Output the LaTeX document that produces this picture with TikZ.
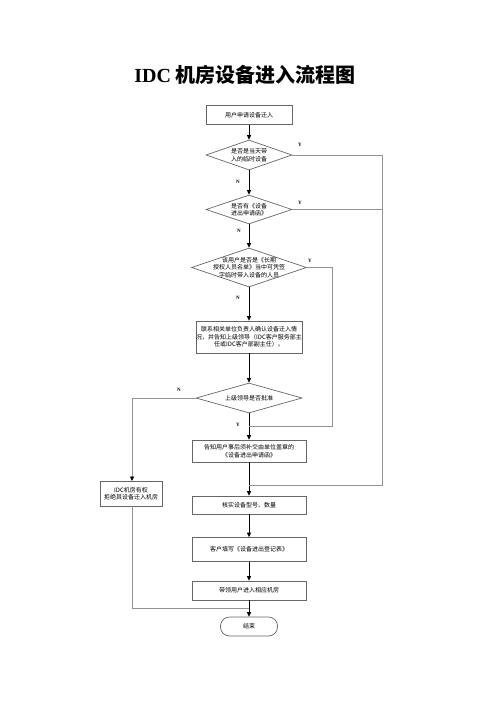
\documentclass[tikz,border=0pt]{standalone}
\usepackage{fontspec}
\setmainfont{Noto Sans CJK SC}
\newfontfamily\latserif{Liberation Serif}
\usetikzlibrary{shapes.geometric,arrows.meta}
\tikzset{
  box/.style={draw=gray!80!black, line width=0.7pt, fill=white, inner sep=0pt, align=center,
              font=\fontsize{6pt}{7.5pt}\selectfont},
  dia/.style={draw=gray!80!black, line width=0.7pt, shape=diamond, inner sep=0pt},
  txt/.style={align=center, inner sep=0pt, font=\fontsize{6pt}{7.5pt}\selectfont},
  yn/.style={inner sep=0pt, font=\latserif\bfseries\fontsize{5pt}{6pt}\selectfont},
  main/.style={line width=1pt, black, -{Triangle[length=4.5pt,width=4pt]}},
  side/.style={line width=0.7pt, gray!85},
  sidearr/.style={line width=0.7pt, gray!85, -{Triangle[length=4.5pt,width=4pt,color=black]}},
}
\begin{document}
\begin{tikzpicture}[x=1pt,y=-1pt]
\useasboundingbox (0,0) rectangle (496,702);
% title
\node[inner sep=0pt, font=\fontsize{20pt}{22pt}\selectfont\bfseries] (title) at (245,75)
  {{\latserif IDC} 机房设备进入流程图};
% boxes
\node[box, minimum width=86pt, minimum height=19pt] (b1) at (249,115) {用户申请设备迁入};
\node[dia, minimum width=86pt, minimum height=30pt] (d1) at (249,155) {};
\node[txt] at (d1) {是否是当天带\\入的临时设备};
\node[dia, minimum width=86pt, minimum height=29pt] (d2) at (249,209.5) {};
\node[txt] at (d2) {是否有《设备\\进出申请函》};
\node[dia, minimum width=115pt, minimum height=39pt] (d3) at (249,267.5) {};
\node[txt] at (d3) {该用户是否是《长期\\授权人员名单》当中可凭签\\字临时带入设备的人员};
\node[box, minimum width=106pt, minimum height=32pt] (b4) at (249,337)
  {联系相关单位负责人确认设备迁入情\\况，并告知上级领导（IDC客户服务部主\\任或IDC客户部副主任）。};
\node[dia, minimum width=106pt, minimum height=30pt] (d4) at (249,398) {};
\node[txt] at (d4) {上级领导是否批准};
\node[box, minimum width=114pt, minimum height=22pt] (b5) at (249,451)
  {告知用户事后须补交由单位盖章的\\《设备进出申请函》};
\node[box, minimum width=114pt, minimum height=18pt] (b6) at (249,505) {核实设备型号、数量};
\node[box, minimum width=114pt, minimum height=24pt] (b7) at (249,549.5) {客户填写《设备进出登记表》};
\node[box, minimum width=114pt, minimum height=19pt] (b8) at (249,590.5) {带领用户进入相应机房};
\node[box, rounded corners=9pt, minimum width=57pt, minimum height=19pt] (e) at (249,626.5) {结束};
\node[box, minimum width=62pt, minimum height=25pt] (rj) at (131,493.5) {IDC机房有权\\拒绝其设备迁入机房};
% junction coordinates
\coordinate (r1) at (382,155);
\coordinate (r2) at (382,209.5);
\coordinate (j1) at (249,485);
\coordinate (r3) at (332,267.5);
\coordinate (j2) at (249,426);
\coordinate (l4) at (132,398);
\coordinate (rjt) at (132,481);
\coordinate (rjb) at (132,506);
\coordinate (j3) at (249,608);
% main flow
\draw[main] (b1) -- (d1);
\draw[main] (d1) -- (d2);
\draw[main] (d2) -- (d3);
\draw[main] (d3) -- (b4);
\draw[main] (b4) -- (d4);
\draw[main] (d4) -- (b5);
\draw[main] (b5) -- (b6);
\draw[main] (b6) -- (b7);
\draw[main] (b7) -- (b8);
\draw[main] (b8) -- (e);
% side lines
\draw[side] (d1.east) -- (r1) -- (382,485) -- (j1);
\draw[side] (d2.east) -- (r2);
\draw[side] (d3.east) -- (r3) -- (332,426) -- (j2);
\draw[sidearr] (d4.west) -- (l4) -- (rjt);
\draw[side] (rjb) -- (132,608) -- (j3);
% labels
\node[yn] (y1) at (300,145) {Y};
\node[yn] (y2) at (300,203) {Y};
\node[yn] (y3) at (310,261) {Y};
\node[yn] (y4) at (238,425) {Y};
\node[yn] (n1) at (238,182) {N};
\node[yn] (n2) at (239,231) {N};
\node[yn] (n3) at (238,298) {N};
\node[yn] (n4) at (179,390) {N};
\end{tikzpicture}
\end{document}
